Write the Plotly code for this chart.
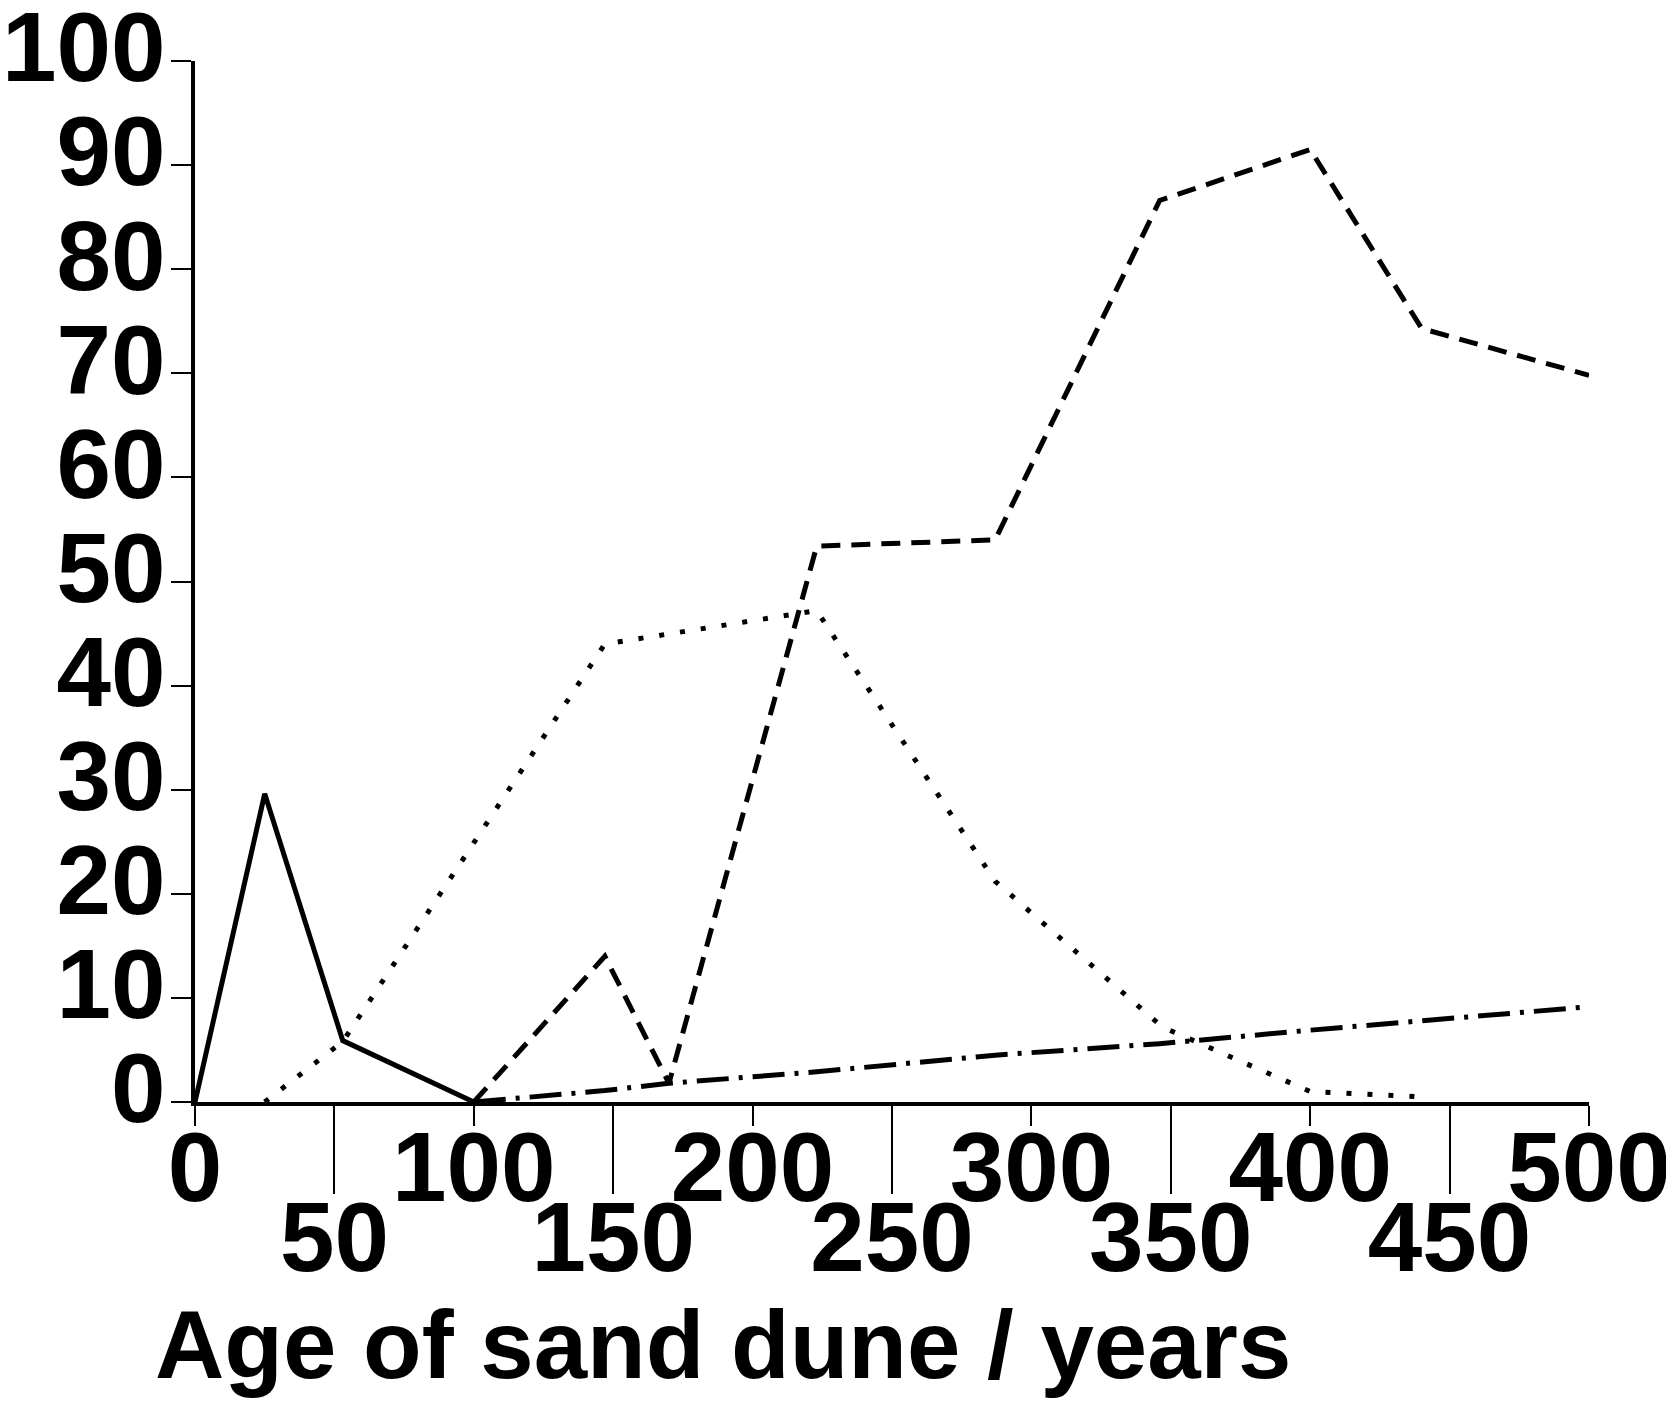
import plotly.graph_objects as go

# ---- data ----
solid_x = [0, 25, 53, 100]
solid_y = [0, 29.6, 5.9, 0]

dotted_x = [25, 53, 147, 223, 287, 347, 400, 440]
dotted_y = [0, 5.8, 44.0, 47.2, 21.2, 7.2, 1.0, 0.5]

dashed_x = [100, 147, 170, 223, 287, 346, 400, 440, 500]
dashed_y = [0, 14.0, 1.8, 53.4, 54.0, 86.6, 91.5, 74.3, 69.8]

dashdot_x = [100, 147, 170, 223, 287, 346, 400, 440, 500]
dashdot_y = [0, 1.1, 1.8, 2.9, 4.5, 5.6, 6.9, 7.8, 9.15]

x_major_ticks = [0, 100, 200, 300, 400, 500]
x_minor_ticks = [50, 150, 250, 350, 450]
y_ticks = [0, 10, 20, 30, 40, 50, 60, 70, 80, 90, 100]
x_title = "Age of sand dune / years"

FONT = "Liberation Sans, Arial, sans-serif"
OFF = 8  # default page (body) margin of the html page
W, H = 1674 - OFF, 1405 - OFF
L, R, T = 195 - OFF, 85, 61 - OFF
B = H - (1102 - OFF)
PH = H - T - B
PW = W - L - R

fig = go.Figure()
fig.add_trace(go.Scatter(x=solid_x, y=solid_y, mode="lines",
                         line=dict(color="black", width=5, dash="solid"),
                         cliponaxis=False, showlegend=False))
fig.add_trace(go.Scatter(x=dotted_x, y=dotted_y, mode="lines",
                         line=dict(color="black", width=5, dash="5px,16px"),
                         cliponaxis=False, showlegend=False))
fig.add_trace(go.Scatter(x=dashed_x, y=dashed_y, mode="lines",
                         line=dict(color="black", width=5, dash="19px,11px"),
                         cliponaxis=False, showlegend=False))
fig.add_trace(go.Scatter(x=dashdot_x, y=dashdot_y, mode="lines",
                         line=dict(color="black", width=5, dash="32px,10px,4px,10px"),
                         cliponaxis=False, showlegend=False))
# invisible trace to activate the second (staggered-label) x axis
fig.add_trace(go.Scatter(x=[None], y=[None], xaxis="x2", mode="lines",
                         showlegend=False, hoverinfo="skip"))

tickfont = dict(family=FONT, size=98, color="black", weight="bold")

fig.update_layout(
    width=W, height=H,
    margin=dict(l=L, r=R, t=T, b=B, pad=0, autoexpand=False),
    paper_bgcolor="white", plot_bgcolor="white",
    showlegend=False,
    xaxis=dict(range=[0, 500], tickmode="array", tickvals=x_major_ticks,
               ticktext=[str(v) for v in x_major_ticks],
               ticks="outside", ticklen=20, tickwidth=2, tickcolor="black",
               showline=True, linewidth=4, linecolor="black",
               showgrid=False, zeroline=False, tickfont=tickfont,
               ticklabelstandoff=-43, automargin=False,
               ticklabeloverflow="allow"),
    xaxis2=dict(range=[0, 500], overlaying="x", anchor="y", side="bottom",
                tickmode="array", tickvals=x_minor_ticks,
                ticktext=[str(v) for v in x_minor_ticks],
                ticks="outside", ticklen=91, tickwidth=2, tickcolor="black",
                showline=False, showgrid=False, zeroline=False,
                tickfont=tickfont, ticklabelstandoff=-41, automargin=False,
                ticklabeloverflow="allow"),
    yaxis=dict(range=[0, 100], tickmode="array", tickvals=y_ticks,
               ticktext=[str(v) for v in y_ticks],
               ticks="outside", ticklen=20, tickwidth=2, tickcolor="black",
               showline=True, linewidth=4, linecolor="black",
               showgrid=False, zeroline=False, tickfont=tickfont,
               ticklabelshift=-14, ticklabelstandoff=-14, automargin=False,
               ticklabeloverflow="allow"),
    annotations=[dict(text=x_title, xref="paper", yref="paper",
                      x=(722.5 - OFF - L) / PW,
                      y=(H - B - (1345 - OFF)) / PH,
                      xanchor="center", yanchor="middle", showarrow=False,
                      font=dict(family=FONT, size=96, color="black", weight="bold"))],
)

fig.write_html("out.html")
